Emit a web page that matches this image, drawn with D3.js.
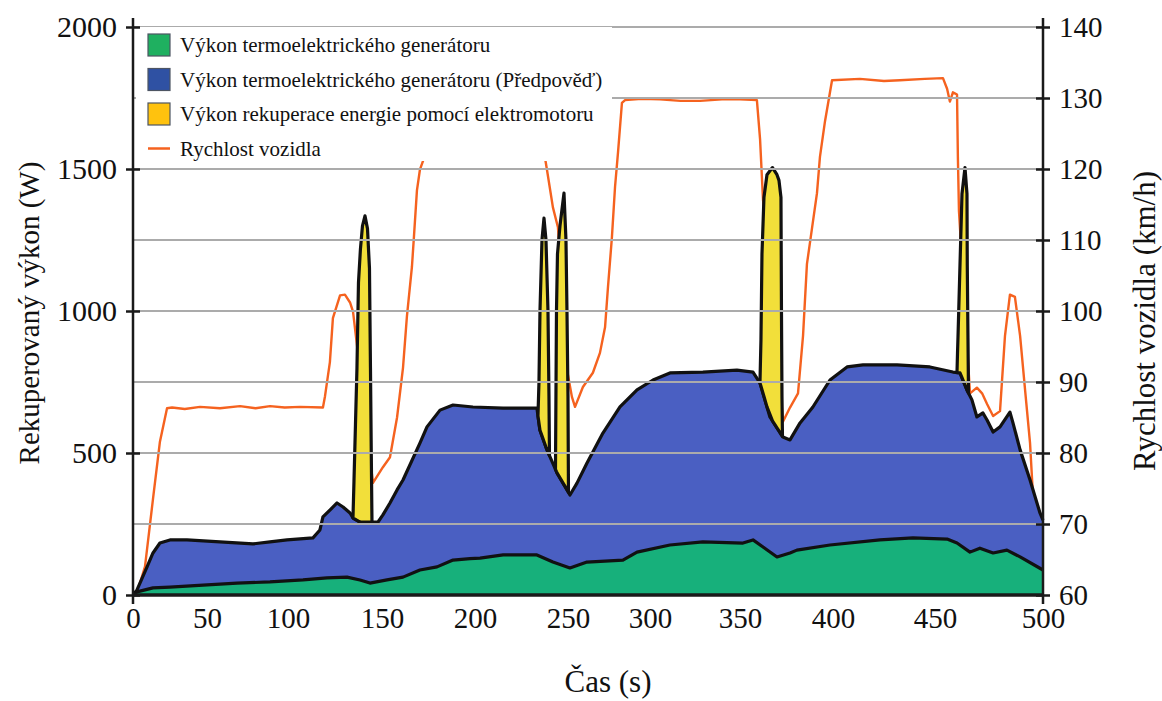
<!DOCTYPE html>
<html>
<head>
<meta charset="utf-8">
<script src="https://cdn.jsdelivr.net/npm/d3@7"></script>
<style>
  html, body { margin: 0; padding: 0; background: #fff; }
  svg { display: block; }
  svg text { font-family: "Liberation Serif", "DejaVu Serif", serif; }
</style>
</head>
<body>
<div id="chart"></div>
<script>
(function() {
  'use strict';

  // Axis ticks
  const timeTicks = [0, 50, 100, 150, 200, 250, 300, 350, 400, 450, 500];
  const powerTicks = [0, 500, 1000, 1500, 2000];
  const speedTicks = [60, 70, 80, 90, 100, 110, 120, 130, 140];

  // TEG power, measured [s, W]
  const tegPower = [
    [0, 0], [2.7, 11], [13.5, 25], [25, 28], [47.3, 35], [68.5, 42], [88.9, 46], [108, 53],
    [120.7, 60], [131.4, 63], [138.3, 53], [143.6, 42], [152.7, 53], [161.3, 63], [170.4, 88],
    [179.6, 99], [188.2, 123], [197.3, 128], [202.7, 130], [215.1, 141], [233.3, 141], [241.9, 116],
    [251.2, 95], [261.6, 116], [283.5, 123], [292.1, 151], [311.1, 176], [329.4, 187], [351.6, 183],
    [357, 194], [362.4, 169], [369.9, 134], [376.9, 148], [380.6, 158], [398.4, 176], [423, 194],
    [439.2, 201], [455.6, 197], [460.2, 183], [466.2, 151], [470.8, 165], [476.9, 148], [483.3, 158],
    [489.4, 134], [500, 88]
  ];

  // TEG power, prediction [s, W]
  const tegForecast = [
    [0, 0], [2.7, 18], [9.5, 99], [13.5, 148], [18.2, 183], [25, 194], [36.5, 194], [58, 187],
    [78.4, 180], [88.9, 187], [99.4, 194], [113.3, 201], [117, 229], [118.6, 275], [122.3, 299],
    [126.1, 324], [129.3, 310], [133, 289], [134.6, 271], [138.3, 257], [147.9, 257], [150.5, 282],
    [154.3, 324], [158.1, 370], [161.3, 405], [170.4, 535], [174.2, 592], [181.2, 651], [188.2, 669],
    [198.9, 662], [215.1, 658], [233.3, 658], [234.9, 581], [238.7, 511], [244.1, 430], [251.2, 352],
    [255.5, 394], [261.6, 465], [271.3, 570], [281.7, 662], [292.1, 722], [301.7, 757], [311.1, 782],
    [329.4, 785], [348.3, 792], [357, 785], [360.8, 746], [366.1, 627], [373.1, 556], [376.9, 546],
    [382.3, 606], [389.2, 662], [398.4, 757], [406.9, 803], [414.7, 810], [431.4, 810], [447.5, 803],
    [458.3, 785], [461.6, 782], [464.8, 722], [467.1, 687], [469.4, 627], [470.8, 634], [472.2, 641],
    [474.1, 616], [476.9, 574], [480.1, 592], [484.7, 644], [486.1, 606], [489.4, 511], [494, 405],
    [498.6, 289], [500, 264]
  ];

  // Regeneration peaks, outline top [s, W] (0 = sits on the forecast curve)
  const regenPeaks = [
    [[134.57, 0], [135.11, 400], [135.9, 600], [136.7, 800], [137.5, 1100], [138.56, 1220],
     [139.63, 1300], [140.96, 1335], [142.29, 1290], [143.35, 1150], [143.88, 800], [144.31, 500], [144.68, 0]],
    [[233.87, 0], [234.41, 750], [234.95, 1000], [236.02, 1250], [237.1, 1327], [238.17, 1250],
     [239.25, 1000], [239.78, 700], [240.05, 0]],
    [[243.28, 0], [243.82, 1000], [244.35, 1200], [245.7, 1300], [247.85, 1415], [248.92, 1250],
     [249.46, 1000], [250, 700], [250.3, 0]],
    [[360.75, 0], [361.29, 900], [361.83, 1200], [362.9, 1400], [364.52, 1480], [367.47, 1505],
     [369.89, 1480], [370.97, 1460], [372.04, 1400], [372.31, 1000], [372.58, 700], [372.85, 0]],
    [[460.19, 0], [460.42, 850], [460.65, 908], [461.57, 1160], [462.5, 1412], [463.89, 1505],
     [464.81, 1412], [464.95, 1160], [465.28, 900], [465.51, 0]]
  ];

  // Vehicle speed [s, km/h]
  const vehicleSpeed = [
    [0, 60], [2.7, 60.3], [8.1, 64], [13.5, 73.5], [18.2, 81.6], [23, 86.3], [26.4, 86.4], [35, 86.2],
    [45.3, 86.5], [58, 86.3], [70.4, 86.6], [80, 86.3], [88.9, 86.6], [98, 86.4], [106.4, 86.5],
    [118.6, 86.4], [119.7, 88], [122.3, 92.8], [123.9, 99], [127.7, 102.2], [130.3, 102.3], [133, 101.2],
    [134.6, 99.9], [139.9, 88], [145.2, 75.8], [150.5, 78], [154.3, 79.4], [158.1, 85], [161.3, 92],
    [163.4, 99.2], [166.1, 106.2], [167.2, 110.5], [168.8, 117], [170.4, 119.9], [174.2, 122.7],
    [178.5, 126], [183.9, 127.5], [197.3, 128], [224.2, 128], [234.9, 126], [238.7, 119.9],
    [241.9, 114.6], [244.6, 111.8], [249.5, 91.7], [252.4, 87.9], [254.3, 86.5], [259.1, 89.3],
    [265.2, 91.3], [269.5, 94.1], [272.6, 97.7], [274.4, 103.4], [276.8, 110.4], [278.7, 117.5],
    [280.5, 122.3], [282.9, 129.3], [284.8, 129.7], [295, 129.9], [305.6, 129.8], [317, 129.6],
    [327.8, 129.6], [340, 129.8], [350, 129.8], [359.1, 129.7], [360.8, 124.2], [362.4, 115.6],
    [368.8, 100], [373.1, 84.4], [376.9, 86.4], [381.2, 88.4], [383.9, 96.5], [386, 106.6],
    [388.7, 111.6], [391.4, 116.6], [393, 121.7], [395.7, 126.7], [399.5, 132.5], [413.2, 132.7],
    [425, 132.4], [432.8, 132.5], [445, 132.7], [453.7, 132.8], [455.6, 131.3], [456.9, 129.5],
    [458.3, 130.8], [460.2, 130.5], [460.6, 121.7], [461.1, 114.1], [463.9, 100], [466.2, 88.4],
    [469.4, 89.2], [471.8, 88.4], [474.1, 86.9], [476.9, 85.2], [480.1, 85.9], [482.4, 96.5],
    [484.7, 102.3], [487, 102], [489.4, 96.5], [491.7, 88.9], [494, 81.4], [495.4, 73.8],
    [497.7, 69.8], [499.5, 68]
  ];

  const legendLabels = [
    'Výkon termoelektrického generátoru',
    'Výkon termoelektrického generátoru (Předpověď)',
    'Výkon rekuperace energie pomocí elektromotoru',
    'Rychlost vozidla'
  ];

  // The source figure spaces its time labels unevenly; keep that spacing
  const timeTickSpread = [0, 0.0813, 0.1703, 0.2736, 0.3758, 0.478, 0.5681, 0.667, 0.7692, 0.8813, 1];

  const colors = {
    teg: '#17b07b',
    forecast: '#4a5fc2',
    regen: '#f2df3a',
    speed: '#f5621f',
    grid: '#ababab',
    outline: '#111'
  };
  const legendColors = ['#1fb060', '#2f51a3', '#ffc20e', colors.speed];
  const serif = '"Liberation Serif", "DejaVu Serif", serif';

  const width = 1162;
  const height = 701;
  const margin = { top: 27, right: 119, bottom: 106, left: 133 };
  const plotW = width - margin.left - margin.right;
  const plotH = height - margin.top - margin.bottom;
  const x0 = margin.left;
  const x1 = margin.left + plotW;
  const yBase = margin.top + plotH;

  const svg = d3.select('#chart')
    .append('svg')
    .attr('width', width)
    .attr('height', height)
    .attr('font-family', serif);

  const x = d3.scaleLinear()
    .domain(timeTicks)
    .range(timeTickSpread.map(f => x0 + f * plotW));

  const yPower = d3.scaleLinear().domain([0, 2000]).range([yBase, margin.top]);
  const ySpeed = d3.scaleLinear().domain([60, 140]).range([yBase, margin.top]);

  // forecast value at any time, used as the floor of the regen peaks
  const forecastAt = d3.scaleLinear()
    .domain(tegForecast.map(d => d[0]))
    .range(tegForecast.map(d => d[1]))
    .clamp(true);

  // Speed line (behind the power areas)
  svg.append('path')
    .datum(vehicleSpeed)
    .attr('fill', 'none')
    .attr('stroke', colors.speed)
    .attr('stroke-width', 2.4)
    .attr('stroke-linejoin', 'round')
    .attr('d', d3.line().x(d => x(d[0])).y(d => ySpeed(d[1])));

  // Forecast area
  svg.append('path')
    .datum(tegForecast)
    .attr('fill', colors.forecast)
    .attr('d', d3.area().x(d => x(d[0])).y0(yBase).y1(d => yPower(d[1])));

  svg.append('path')
    .datum(tegForecast)
    .attr('fill', 'none')
    .attr('stroke', colors.outline)
    .attr('stroke-width', 3.2)
    .attr('stroke-linejoin', 'round')
    .attr('d', d3.line().x(d => x(d[0])).y(d => yPower(d[1])));

  // Measured TEG area
  svg.append('path')
    .datum(tegPower)
    .attr('fill', colors.teg)
    .attr('d', d3.area().x(d => x(d[0])).y0(yBase).y1(d => yPower(d[1])));

  svg.append('path')
    .datum(tegPower)
    .attr('fill', 'none')
    .attr('stroke', colors.outline)
    .attr('stroke-width', 3.2)
    .attr('stroke-linejoin', 'round')
    .attr('d', d3.line().x(d => x(d[0])).y(d => yPower(d[1])));

  // Regeneration peaks stacked on the forecast
  const peakArea = d3.area()
    .x(d => x(d[0]))
    .y0(d => yPower(forecastAt(d[0])))
    .y1(d => yPower(Math.max(d[1], forecastAt(d[0]))));

  svg.append('g')
    .selectAll('path')
    .data(regenPeaks)
    .enter()
    .append('path')
    .attr('fill', colors.regen)
    .attr('stroke', colors.outline)
    .attr('stroke-width', 3.2)
    .attr('stroke-linejoin', 'round')
    .attr('d', peakArea);

  // Horizontal grid at every speed tick
  svg.append('g')
    .selectAll('line')
    .data(speedTicks.slice(1))
    .enter()
    .append('line')
    .attr('x1', x0)
    .attr('x2', x1)
    .attr('y1', d => ySpeed(d))
    .attr('y2', d => ySpeed(d))
    .attr('stroke', colors.grid)
    .attr('stroke-width', 2.2);

  // Legend (white box hides grid + speed behind it)
  const legend = svg.append('g').attr('transform', 'translate(' + (x0 + 3) + ',' + margin.top + ')');
  legend.append('rect')
    .attr('width', 476)
    .attr('height', 134)
    .attr('fill', '#fff');

  const items = legend.selectAll('g')
    .data(legendLabels)
    .enter()
    .append('g')
    .attr('transform', (d, i) => 'translate(12,' + (18 + i * 34.5) + ')');

  items.filter((d, i) => i < 3)
    .append('rect')
    .attr('x', 0)
    .attr('y', -11)
    .attr('width', 22)
    .attr('height', 22)
    .attr('fill', (d, i) => legendColors[i])
    .attr('stroke', '#4d5563')
    .attr('stroke-width', 1.2);

  items.filter((d, i) => i === 3)
    .append('line')
    .attr('x1', 0)
    .attr('x2', 22)
    .attr('stroke', colors.speed)
    .attr('stroke-width', 2.5);

  items.append('text')
    .attr('x', 32)
    .attr('dy', '0.35em')
    .attr('font-size', 21)
    .attr('font-family', serif)
    .attr('fill', '#111')
    .text(d => d);

  // Axes
  const axisColor = '#1a1a1a';
  const fmt = d3.format('d');

  function styleAxis(g, size) {
    g.attr('font-family', serif).attr('font-size', size);
    g.select('.domain').remove();
    g.selectAll('.tick text').attr('font-size', size).attr('font-family', serif).attr('fill', '#111');
    g.selectAll('.tick line').attr('stroke', axisColor).attr('stroke-width', 2.5);
  }

  const leftAxis = svg.append('g')
    .attr('transform', 'translate(' + x0 + ',0)')
    .call(d3.axisLeft(yPower).tickValues(powerTicks).tickFormat(fmt).tickSize(7).tickPadding(9));
  styleAxis(leftAxis, 30);
  leftAxis.selectAll('.tick line').attr('x1', 7);

  const rightAxis = svg.append('g')
    .attr('transform', 'translate(' + x1 + ',0)')
    .call(d3.axisRight(ySpeed).tickValues(speedTicks).tickFormat(fmt).tickSize(7).tickPadding(9));
  styleAxis(rightAxis, 29);
  rightAxis.selectAll('.tick line').attr('x1', -7);

  const bottomAxis = svg.append('g')
    .attr('transform', 'translate(0,' + yBase + ')')
    .call(d3.axisBottom(x).tickValues(timeTicks).tickFormat(fmt).tickSize(0).tickPadding(12));
  styleAxis(bottomAxis, 29);

  // Axis lines
  svg.append('line')
    .attr('x1', x0).attr('x2', x1)
    .attr('y1', yBase).attr('y2', yBase)
    .attr('stroke', axisColor)
    .attr('stroke-width', 3.5);

  [x0, x1].forEach(function(xp) {
    svg.append('line')
      .attr('x1', xp).attr('x2', xp)
      .attr('y1', margin.top - 9).attr('y2', yBase + 9)
      .attr('stroke', axisColor)
      .attr('stroke-width', 2.5);
  });

  // Axis titles
  function title(text, size) {
    return svg.append('text')
      .attr('text-anchor', 'middle')
      .attr('font-size', size)
      .attr('font-family', serif)
      .attr('fill', '#111')
      .text(text);
  }

  title('Rekuperovaný výkon (W)', 29)
    .attr('transform', 'translate(39,' + (margin.top + plotH / 2 + 2) + ') rotate(-90)');

  title('Rychlost vozidla (km/h)', 31)
    .attr('transform', 'translate(1155,' + (margin.top + plotH / 2 + 10) + ') rotate(-90)');

  title('Čas (s)', 31)
    .attr('x', 608)
    .attr('y', 692);
})();
</script>
</body>
</html>
